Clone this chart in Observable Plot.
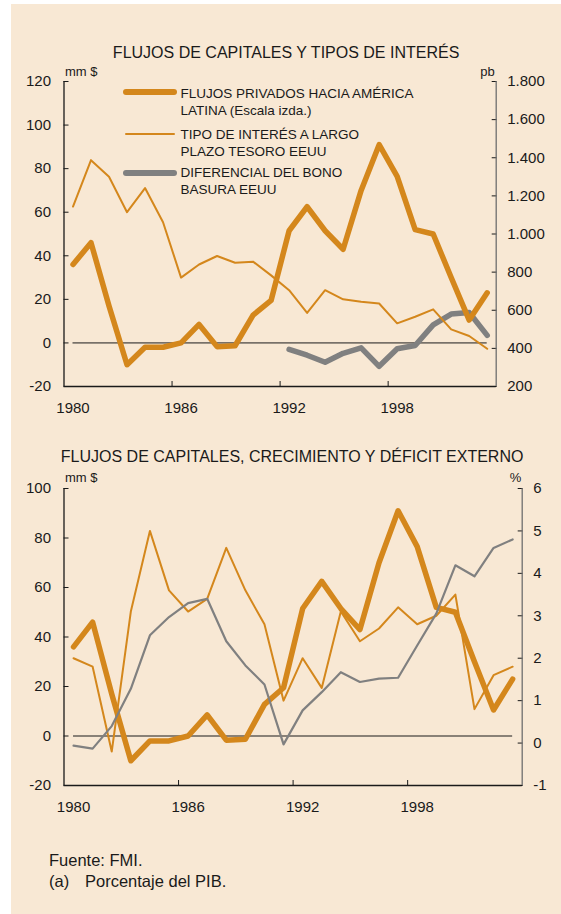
<!DOCTYPE html>
<html>
<head>
<meta charset="utf-8">
<script src="https://cdn.jsdelivr.net/npm/d3@7"></script>
<script src="https://cdn.jsdelivr.net/npm/@observablehq/plot@0.6"></script>
<style>
  html, body { margin: 0; padding: 0; background: #ffffff; }
  body { font-family: "Liberation Sans", Arial, Helvetica, sans-serif; color: #1a1a1a; }
  #page { position: relative; width: 561px; height: 914px; overflow: hidden; }
  #frame { position: absolute; left: 11px; top: 4px; width: 550px; height: 910px; background: #F8E8D4; }
  #frame svg { position: absolute; left: 0; }
  .leg { position: absolute; font-size: 13.5px; line-height: 17px; white-space: nowrap; color: #1a1a1a; }
  .sample { position: absolute; }
  .note { position: absolute; font-size: 16.5px; white-space: nowrap; color: #1a1a1a; }
</style>
</head>
<body>
<div id="page">
  <div id="frame"></div>
</div>
<script>
// ---------- data ----------
const years = [1980,1981,1982,1983,1984,1985,1986,1987,1988,1989,1990,1991,1992,1993,1994,1995,1996,1997,1998,1999,2000,2001,2002,2003];
// Private capital flows to Latin America (mm $, left scale)
const flows = [36,46,17,-10,-2,-2,0,8.5,-1.7,-1.3,12.8,19.5,51.5,62.5,51.5,43,70,91,76.5,52,50,30,10.5,23];
// Long-term US Treasury rate (drawn in left-scale units, as read)
const longRate = [62.6,83.9,76.3,60,71.1,55.4,30,36,39.9,36.8,37.3,31,24.2,13.8,24.2,20,18.9,18.1,9,12,15.4,6.2,3.2,-2.7];
// US junk bond spread (pb, right scale), 1992-2003
const spreadYears = [1992,1993,1994,1995,1996,1997,1998,1999,2000,2001,2002,2003];
const spread = [395,364,327,374,403,306,398,415,523,580,588,468];
// Panel 2, right scale (%)
const growth = [2.0,1.8,-0.2,3.1,5.0,3.6,3.1,3.4,4.6,3.6,2.8,1.0,2.0,1.3,3.1,2.4,2.7,3.2,2.8,3.0,3.5,0.8,1.6,1.8];
const deficit = [-0.06,-0.13,0.4,1.28,2.54,2.97,3.3,3.4,2.4,1.83,1.38,-0.03,0.77,1.2,1.67,1.44,1.52,1.54,2.3,3.05,4.19,3.93,4.6,4.8];

// tick labels
const xTickYears = [1980,1986,1992,1998];
const left1Ticks = [-20,0,20,40,60,80,100,120];
const right1Ticks = [200,400,600,800,1000,1200,1400,1600,1800];
const left2Ticks = [-20,0,20,40,60,80,100];
const right2Ticks = [-1,0,1,2,3,4,5,6];

const title1 = "FLUJOS DE CAPITALES Y TIPOS DE INTERÉS";
const title2 = "FLUJOS DE CAPITALES, CRECIMIENTO Y DÉFICIT EXTERNO";
const legendItems = [
  ["FLUJOS PRIVADOS HACIA AMÉRICA", "LATINA (Escala izda.)"],
  ["TIPO DE INTERÉS A LARGO", "PLAZO TESORO EEUU"],
  ["DIFERENCIAL DEL BONO", "BASURA EEUU"]
];
const notes = ["Fuente: FMI.", "(a)", "Porcentaje del PIB."];

// ---------- helpers ----------
const ORANGE = "#D4871C";
const GRAY = "#808080";
const INK = "#1a1a1a";
const AXIS_R = "#6e6e6e";
const FONT = "'Liberation Sans', Arial, Helvetica, sans-serif";

// dual axes share the same pixel range: map right-scale values into left units
const L1 = [-20,120], R1 = [200,1800];
const L2 = [-20,100], R2 = [-1,6];
const toL = (L,R) => v => L[0] + (v - R[0]) * (L[1]-L[0]) / (R[1]-R[0]);
const fromL = (L,R) => v => R[0] + (v - L[0]) * (R[1]-R[0]) / (L[1]-L[0]);
const r1 = toL(L1,R1), r1inv = fromL(L1,R1);
const r2 = toL(L2,R2), r2inv = fromL(L2,R2);
const fmtThousands = d => { const s = String(d); return s.length > 3 ? s.slice(0, s.length-3) + "." + s.slice(-3) : s; };

const mid = y => y + 0.5; // annual values plotted mid-year

const d1 = years.map((y,i) => ({t: mid(y), flows: flows[i], rate: longRate[i]}));
const dSpread = spreadYears.map((y,i) => ({t: mid(y), v: r1(spread[i])}));
const d2 = years.map((y,i) => ({t: mid(y), flows: flows[i], g: r2(growth[i]), d: r2(deficit[i])}));

function frameAxes(leftTicks, rightTicksL, rightFmt, xDomainEnd) {
  return [
    // tick marks pointing inward
    Plot.axisY({anchor: "left", ticks: leftTicks, tickSize: 5, dx: 5, tickFormat: () => "", label: null, stroke: INK}),
    Plot.axisY({anchor: "right", ticks: rightTicksL, tickSize: 5, dx: -5, tickFormat: () => "", label: null, stroke: INK}),
    Plot.axisX({anchor: "bottom", ticks: xTickYears.slice(1), tickSize: 5, dy: -5, tickFormat: () => "", label: null, stroke: INK}),
    // labels
    Plot.axisY({anchor: "left", ticks: leftTicks, tickSize: 0, tickPadding: 13, tickFormat: d => String(d), label: null, fontSize: 15, fill: INK}),
    Plot.axisY({anchor: "right", ticks: rightTicksL, tickSize: 0, tickPadding: 11, tickFormat: rightFmt, label: null, fontSize: 15, fill: INK}),
    Plot.axisX({anchor: "bottom", ticks: xTickYears.map(mid), tickSize: 0, tickPadding: 16, tickFormat: d => String(d - 0.5), label: null, fontSize: 15, fill: INK}),
    // axis lines
    Plot.ruleX([xDomainEnd], {stroke: AXIS_R, strokeWidth: 1.3}),
    Plot.ruleX([1980], {stroke: INK, strokeWidth: 1.3}),
  ];
}

// ---------- panel 1 ----------
const p1 = Plot.plot({
  width: 550, height: 420,
  marginLeft: 52.5, marginRight: 65.3, marginTop: 77, marginBottom: 38,
  x: {domain: [1980, 2004], axis: null},
  y: {domain: L1, axis: null},
  style: {background: "transparent", fontFamily: FONT, fontSize: "15px", color: INK, overflow: "visible"},
  marks: [
    Plot.ruleY([0], {x1: mid(1980), x2: mid(2003), stroke: INK, strokeWidth: 1}),
    Plot.line(dSpread, {x: "t", y: "v", stroke: GRAY, strokeWidth: 5.5}),
    Plot.line(d1, {x: "t", y: "rate", stroke: ORANGE, strokeWidth: 2}),
    Plot.line(d1, {x: "t", y: "flows", stroke: ORANGE, strokeWidth: 5.5}),
    ...frameAxes(left1Ticks, right1Ticks.map(r1), v => fmtThousands(Math.round(r1inv(v))), 2004),
    Plot.ruleY([L1[0]], {stroke: INK, strokeWidth: 1.3}),
    Plot.text([title1], {frameAnchor: "top", dy: -29, dx: 6, fontSize: 16, fill: INK, lineAnchor: "middle"}),
    Plot.text(["mm $"], {frameAnchor: "top-left", dy: -9.5, dx: 1, textAnchor: "start", fontSize: 13, fill: INK, lineAnchor: "middle"}),
    Plot.text(["pb"], {frameAnchor: "top-right", dy: -9.5, dx: -1.5, textAnchor: "end", fontSize: 13, fill: INK, lineAnchor: "middle"})
  ]
});
p1.style.top = "0px";
document.getElementById("frame").appendChild(p1);

// ---------- panel 2 ----------
const p2 = Plot.plot({
  width: 550, height: 400,
  marginLeft: 52.5, marginRight: 39.3, marginTop: 64, marginBottom: 39,
  x: {domain: [1980, 2004], axis: null},
  y: {domain: L2, axis: null},
  style: {background: "transparent", fontFamily: FONT, fontSize: "15px", color: INK, overflow: "visible"},
  marks: [
    Plot.ruleY([0], {x1: mid(1980), x2: mid(2003), stroke: INK, strokeWidth: 1}),
    Plot.line(d2, {x: "t", y: "g", stroke: ORANGE, strokeWidth: 2}),
    Plot.line(d2, {x: "t", y: "flows", stroke: ORANGE, strokeWidth: 5.5}),
    Plot.line(d2, {x: "t", y: "d", stroke: GRAY, strokeWidth: 2.2}),
    ...frameAxes(left2Ticks, right2Ticks.map(r2), v => String(Math.round(r2inv(v))), 2004),
    Plot.ruleY([L2[0]], {stroke: INK, strokeWidth: 1.3}),
    Plot.text([title2], {frameAnchor: "top", dy: -32, dx: -1, fontSize: 16, fill: INK, lineAnchor: "middle"}),
    Plot.text(["mm $"], {frameAnchor: "top-left", dy: -10.5, dx: 1, textAnchor: "start", fontSize: 13, fill: INK, lineAnchor: "middle"}),
    Plot.text(["%"], {frameAnchor: "top-right", dy: -10.5, dx: -1, textAnchor: "end", fontSize: 13, fill: INK, lineAnchor: "middle"})
  ]
});
p2.style.top = "420px";
document.getElementById("frame").appendChild(p2);

// ---------- legend (panel 1) ----------
const page = document.getElementById("page");
const legendRows = [
  {top: 84.5, lineY: 92, color: ORANGE, w: 6},
  {top: 125.5, lineY: 133.5, color: ORANGE, w: 2},
  {top: 164, lineY: 172.5, color: GRAY, w: 6}
];
legendItems.forEach((lines, i) => {
  const r = legendRows[i];
  const s = document.createElementNS("http://www.w3.org/2000/svg", "svg");
  s.setAttribute("class", "sample");
  s.setAttribute("width", 60); s.setAttribute("height", 12);
  s.style.left = "120px"; s.style.top = (r.lineY - 6) + "px";
  const ln = document.createElementNS("http://www.w3.org/2000/svg", "line");
  ln.setAttribute("x1", 6); ln.setAttribute("x2", 54); ln.setAttribute("y1", 6); ln.setAttribute("y2", 6);
  ln.setAttribute("stroke", r.color); ln.setAttribute("stroke-width", r.w); ln.setAttribute("stroke-linecap", "round");
  s.appendChild(ln);
  page.appendChild(s);
  const t = document.createElement("div");
  t.className = "leg";
  t.style.left = "180.5px"; t.style.top = r.top + "px";
  t.innerHTML = lines.join("<br>");
  page.appendChild(t);
});

// ---------- notes ----------
const n1 = document.createElement("div"); n1.className = "note"; n1.style.left = "49px"; n1.style.top = "851px"; n1.textContent = notes[0]; page.appendChild(n1);
const n2 = document.createElement("div"); n2.className = "note"; n2.style.left = "49px"; n2.style.top = "872px"; n2.textContent = notes[1]; page.appendChild(n2);
const n3 = document.createElement("div"); n3.className = "note"; n3.style.left = "85px"; n3.style.top = "872px"; n3.textContent = notes[2]; page.appendChild(n3);
</script>
</body>
</html>
